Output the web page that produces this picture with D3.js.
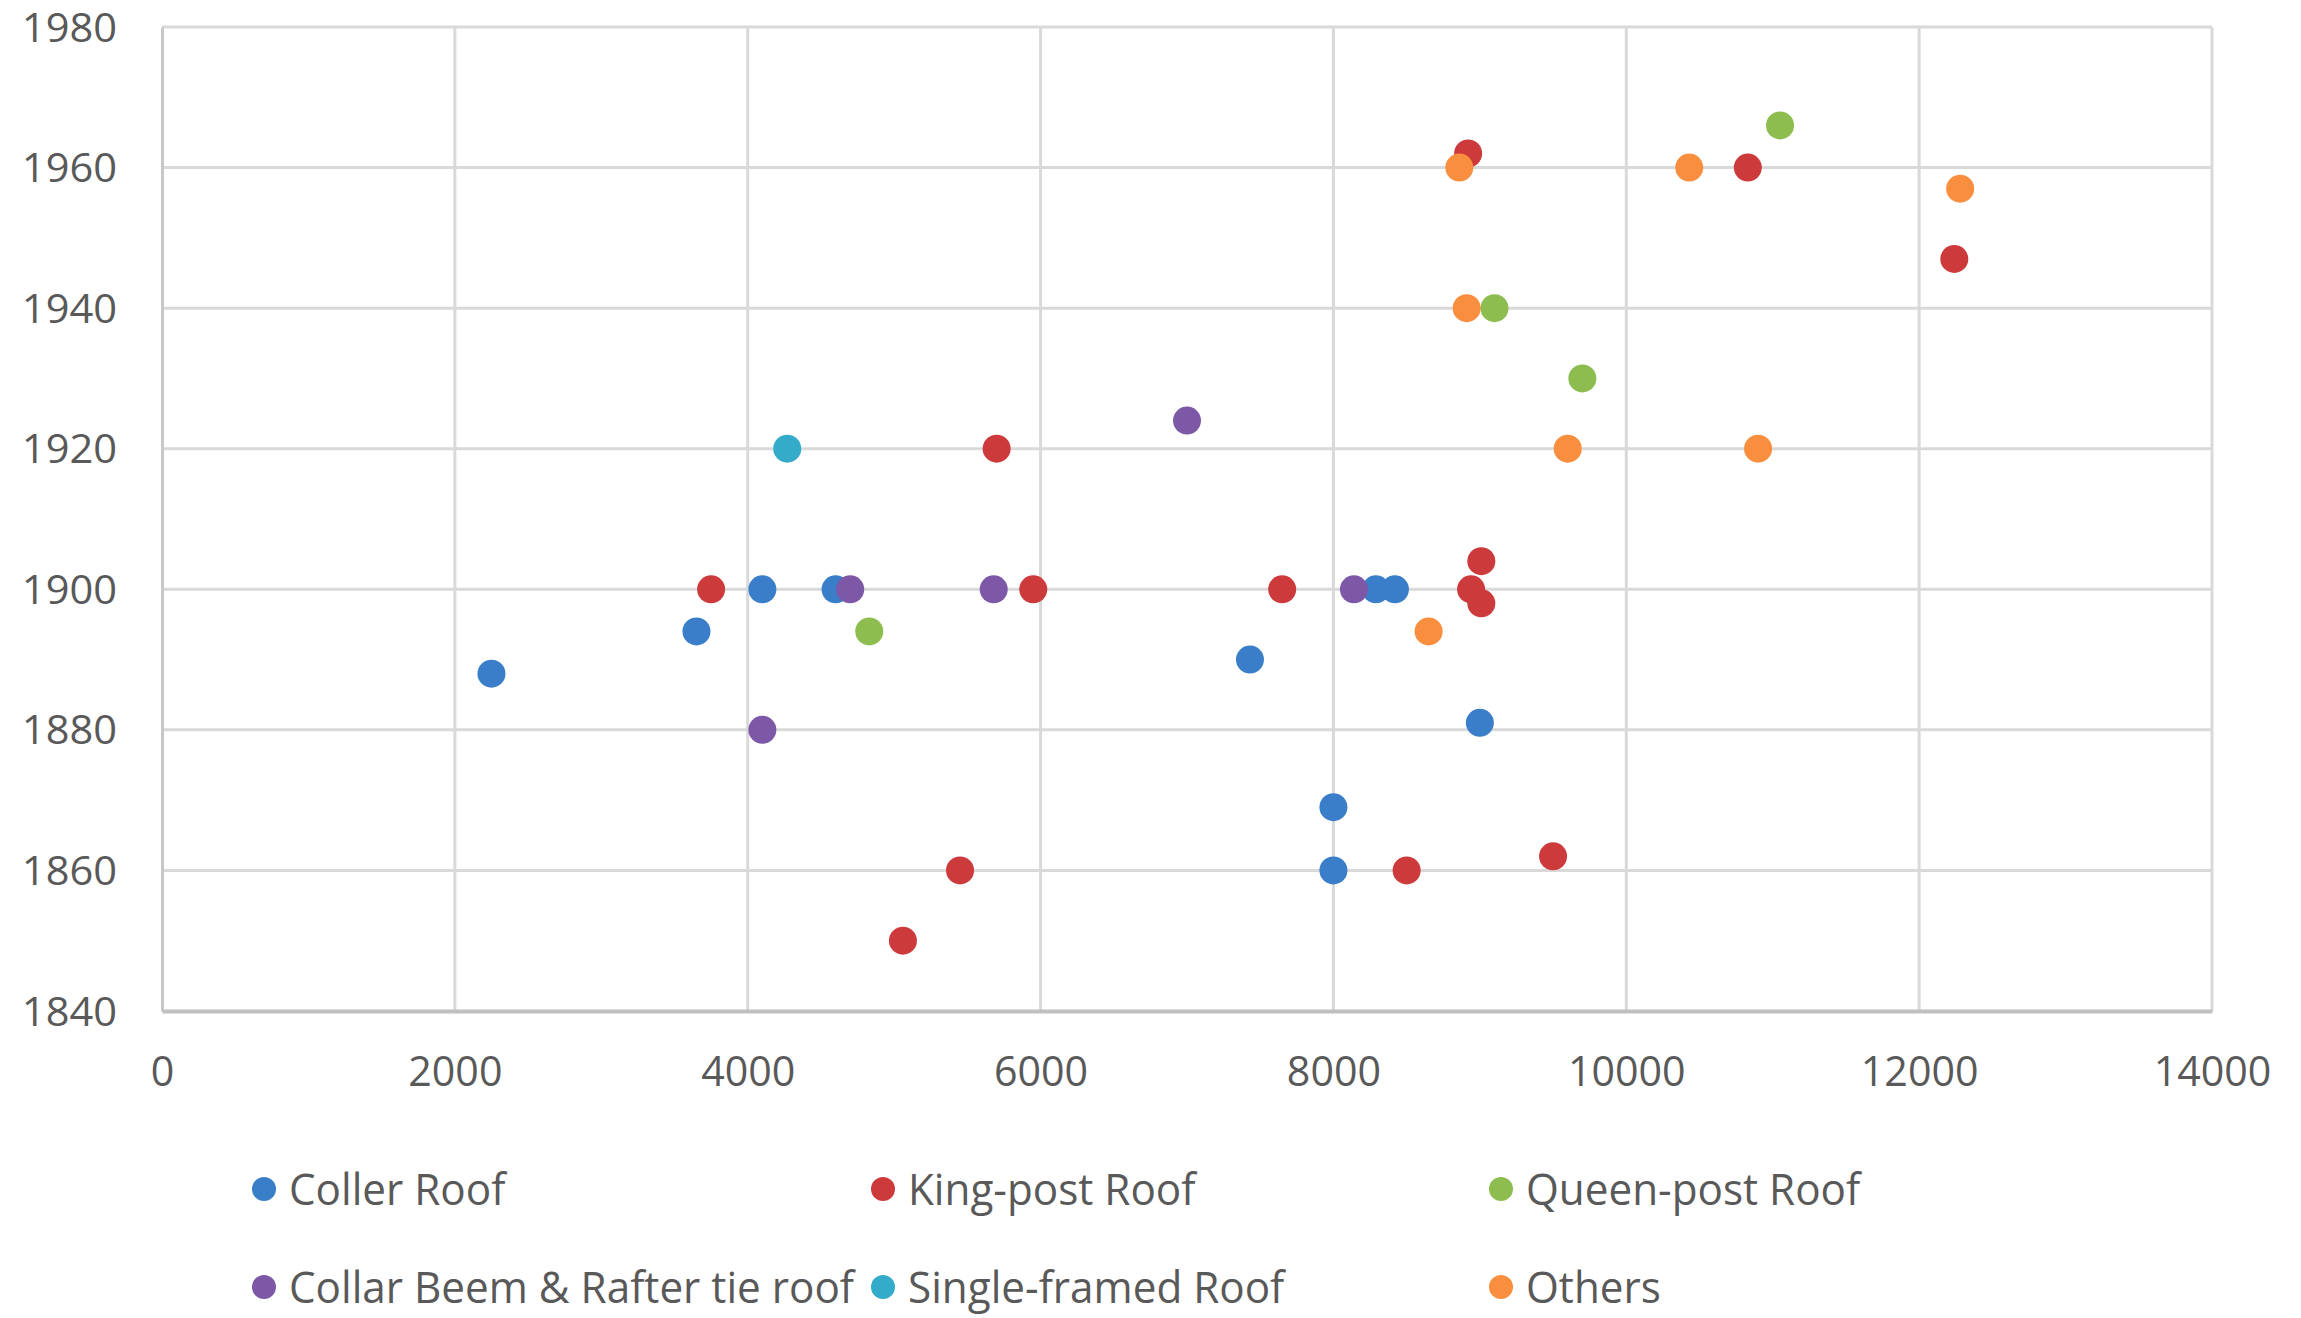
<!DOCTYPE html>
<html>
<head>
<meta charset="utf-8">
<script src="https://cdn.jsdelivr.net/npm/d3@7"></script>
<style>
  html, body { margin: 0; padding: 0; background: #ffffff; }
  svg { display: block; }
</style>
</head>
<body>
<svg id="chart" width="2301" height="1318"></svg>
<script>
// ---- data ----
const seriesNames = ["Coller Roof", "King-post Roof", "Queen-post Roof",
  "Collar Beem & Rafter tie roof", "Single-framed Roof", "Others"];
const seriesColors = ["#3a7dc8", "#cc3a3c", "#8dbd4f", "#7c58a7", "#33abc9", "#f88e3e"];

const collerRoof = [
  [2250, 1888], [3650, 1894], [4100, 1900], [4600, 1900], [7430, 1890],
  [8000, 1869], [8000, 1860], [8290, 1900], [8420, 1900], [9000, 1881]
];
const kingPostRoof = [
  [3750, 1900], [5700, 1920], [5950, 1900], [5060, 1850], [5450, 1860],
  [7650, 1900], [8500, 1860], [8920, 1962], [9010, 1904], [8940, 1900],
  [9010, 1898], [9500, 1862], [10830, 1960], [12240, 1947]
];
const queenPostRoof = [
  [4830, 1894], [9100, 1940], [9700, 1930], [11050, 1966]
];
const collarBeemRoof = [
  [4100, 1880], [4700, 1900], [5680, 1900], [7000, 1924], [8140, 1900]
];
const singleFramedRoof = [
  [4270, 1920]
];
const others = [
  [8860, 1960], [8910, 1940], [8650, 1894], [9600, 1920],
  [10430, 1960], [10900, 1920], [12280, 1957]
];
const seriesData = [collerRoof, kingPostRoof, queenPostRoof, collarBeemRoof, singleFramedRoof, others];

const xTicks = [0, 2000, 4000, 6000, 8000, 10000, 12000, 14000];
const yTicks = [1840, 1860, 1880, 1900, 1920, 1940, 1960, 1980];

// ---- layout ----
const svg = d3.select("#chart");
const plot = { left: 162, right: 2212, top: 27, bottom: 1011 };

const x = d3.scaleLinear().domain([0, 14000]).range([plot.left, plot.right]);
const y = d3.scaleLinear().domain([1840, 1980]).range([plot.bottom, plot.top]);

const fontFamily = "'Open Sans', 'Noto Sans', sans-serif";
const textColor = "#595959";

function condenseText(sel, factor) {
  sel.each(function () {
    const w = this.getComputedTextLength();
    d3.select(this).attr("textLength", w * factor).attr("lengthAdjust", "spacingAndGlyphs");
  });
}

// gridlines
const grid = svg.append("g");
grid.selectAll("line.h").data(yTicks.filter(d => d !== 1840)).enter().append("line")
  .attr("x1", plot.left).attr("x2", plot.right)
  .attr("y1", d => y(d)).attr("y2", d => y(d))
  .attr("stroke", "#d9d9d9").attr("stroke-width", 3);
grid.selectAll("line.v").data(xTicks.filter(d => d !== 0)).enter().append("line")
  .attr("y1", plot.top).attr("y2", plot.bottom)
  .attr("x1", d => x(d)).attr("x2", d => x(d))
  .attr("stroke", "#d9d9d9").attr("stroke-width", 3);

// axes via d3 axis generators
const yAxis = d3.axisLeft(y).tickValues(yTicks).tickSize(0).tickPadding(0).tickFormat(d3.format("d"));
const gy = svg.append("g").attr("transform", `translate(${plot.left},0)`).call(yAxis);
gy.select(".domain").attr("stroke", "#c8c8c8").attr("stroke-width", 3);
gy.selectAll("text").attr("x", -45).attr("dy", "0.35em")
  .attr("font-family", fontFamily).attr("font-size", 40).attr("fill", textColor)
  .attr("text-anchor", "end").call(condenseText, 1.04);

const xAxis = d3.axisBottom(x).tickValues(xTicks).tickSize(0).tickPadding(0).tickFormat(d3.format("d"));
const gx = svg.append("g").attr("transform", `translate(0,${plot.bottom})`).call(xAxis);
gx.select(".domain").attr("stroke", "#c0c0c0").attr("stroke-width", 4);
gx.selectAll("text").attr("y", 60).attr("dy", "0.36em")
  .attr("font-family", fontFamily).attr("font-size", 42).attr("fill", textColor)
  .call(condenseText, 0.98);

// points
const pts = svg.append("g");
seriesData.forEach((data, i) => {
  pts.append("g").selectAll("circle").data(data).enter().append("circle")
    .attr("cx", d => x(d[0])).attr("cy", d => y(d[1]))
    .attr("r", 14)
    .attr("fill", seriesColors[i]);
});

// legend
const legendCols = [264, 883, 1501];
const legendRows = [1189, 1287];
const legend = svg.append("g");
seriesNames.forEach((name, i) => {
  const cx = legendCols[i % 3], cy = legendRows[Math.floor(i / 3)];
  const g = legend.append("g");
  g.append("circle").attr("cx", cx).attr("cy", cy).attr("r", 12).attr("fill", seriesColors[i]);
  g.append("text").attr("x", cx + 25).attr("y", cy).attr("dy", "0.36em")
    .attr("font-family", fontFamily).attr("font-size", 44).attr("fill", textColor)
    .text(name).call(condenseText, 0.96);
});
</script>
</body>
</html>
